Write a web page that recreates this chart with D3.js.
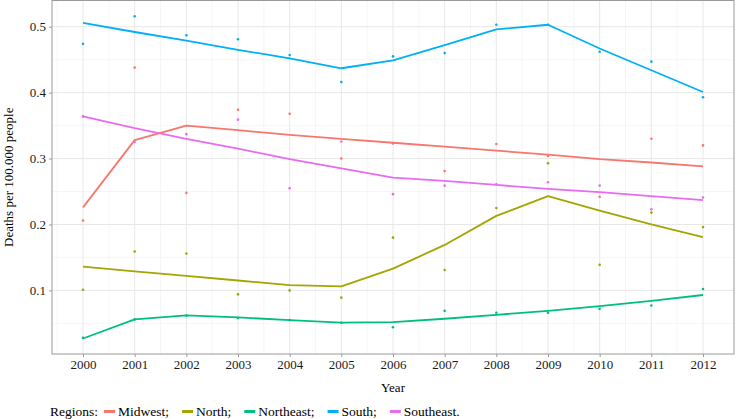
<!DOCTYPE html>
<html><head><meta charset="utf-8">
<script src="https://cdn.jsdelivr.net/npm/d3@7"></script>
<style>body{margin:0;background:#fff}
svg text{font-family:'Liberation Serif','Tinos','Times New Roman',Times,'DejaVu Serif',serif !important}</style>
</head><body>
<svg id="c" width="736" height="419"></svg>
<script>
const years = [2000,2001,2002,2003,2004,2005,2006,2007,2008,2009,2010,2011,2012];
const regions = ["Midwest","North","Northeast","South","Southeast"];
const colors = ["#F8766D","#A3A500","#00BF7D","#00B0F6","#E76BF3"];
const yTicks = [0.1,0.2,0.3,0.4,0.5];
const xTicks = years;

// observed points
const ptMidwest   = [0.206,0.438,0.248,0.374,0.368,0.300,0.323,0.281,0.322,0.304,0.242,0.330,0.320];
const ptNorth     = [0.101,0.159,0.156,0.094,0.100,0.089,0.180,0.131,0.225,0.293,0.139,0.218,0.196];
const ptNortheast = [0.028,0.056,0.062,0.058,0.055,0.051,0.044,0.069,0.066,0.066,0.072,0.077,0.102];
const ptSouth     = [0.474,0.516,0.487,0.481,0.457,0.416,0.455,0.460,0.503,0.503,0.462,0.447,0.393];
const ptSoutheast = [0.364,0.325,0.337,0.359,0.255,0.326,0.246,0.259,0.261,0.264,0.259,0.223,0.241];

// fitted lines
const fitMidwest   = [0.226,0.328,0.350,0.343,0.336,0.330,0.324,0.318,0.312,0.306,0.299,0.294,0.288];
const fitNorth     = [0.136,0.129,0.122,0.115,0.108,0.106,0.133,0.169,0.213,0.243,0.221,0.200,0.181];
const fitNortheast = [0.027,0.056,0.062,0.059,0.055,0.051,0.052,0.057,0.063,0.069,0.076,0.084,0.093];
const fitSouth     = [0.506,0.492,0.479,0.465,0.452,0.437,0.449,0.472,0.496,0.503,0.467,0.434,0.401];
const fitSoutheast = [0.364,0.346,0.330,0.315,0.299,0.285,0.271,0.266,0.260,0.254,0.249,0.243,0.237];

const points = [ptMidwest,ptNorth,ptNortheast,ptSouth,ptSoutheast];
const fits = [fitMidwest,fitNorth,fitNortheast,fitSouth,fitSoutheast];

const FONT = "'Liberation Serif','Tinos','Times New Roman',Times,'DejaVu Serif',serif";
const svg = d3.select("#c");
const L=52, R=734, T=0.5, B=354;
const x = d3.scaleLinear().domain([1999.4,2012.6]).range([L,R]);
const y = d3.scaleLinear().domain([0.0035,0.5398]).range([B,T]);

const g = svg.append("g");
// minor grid
const xMinor = years.slice(0,-1).map(v=>v+0.5).concat([1999.5]);
const yMinor = [0.05,0.15,0.25,0.35,0.45];
g.selectAll(".xm").data(xMinor).join("line").attr("x1",d=>x(d)).attr("x2",d=>x(d)).attr("y1",T).attr("y2",B).attr("stroke","#F0F0F0").attr("stroke-width",0.6);
g.selectAll(".ym").data(yMinor).join("line").attr("x1",L).attr("x2",R).attr("y1",d=>y(d)).attr("y2",d=>y(d)).attr("stroke","#F0F0F0").attr("stroke-width",0.6);
// major grid
g.selectAll(".xg").data(xTicks).join("line").attr("x1",d=>x(d)).attr("x2",d=>x(d)).attr("y1",T).attr("y2",B).attr("stroke","#E8E8E8").attr("stroke-width",1);
g.selectAll(".yg").data(yTicks).join("line").attr("x1",L).attr("x2",R).attr("y1",d=>y(d)).attr("y2",d=>y(d)).attr("stroke","#E8E8E8").attr("stroke-width",1);

// lines
const line = d3.line().x((d,i)=>x(years[i])).y(d=>y(d));
fits.forEach((f,k)=>{
  svg.append("path").attr("d",line(f)).attr("fill","none").attr("stroke",colors[k]).attr("stroke-width",1.8).attr("stroke-linejoin","round");
});
// points
points.forEach((p,k)=>{
  svg.append("g").selectAll("circle").data(p).join("circle")
    .attr("cx",(d,i)=>x(years[i])).attr("cy",d=>y(d)).attr("r",1.3).attr("fill",colors[k]);
});

// border
svg.append("rect").attr("x",L).attr("y",T).attr("width",R-L).attr("height",B-T).attr("fill","none").attr("stroke","#9a9a9a").attr("stroke-width",1);

// axes
const xa = svg.append("g").attr("transform",`translate(0,${B})`)
  .call(d3.axisBottom(x).tickValues(xTicks).tickFormat(d3.format("d")).tickSize(3).tickPadding(3));
const ya = svg.append("g").attr("transform",`translate(${L},0)`)
  .call(d3.axisLeft(y).tickValues(yTicks).tickFormat(d3.format(".1f")).tickSize(3).tickPadding(3));
[xa,ya].forEach(a=>{
  a.attr("font-family",FONT).attr("font-size",13);
  a.select(".domain").remove();
  a.selectAll(".tick line").attr("stroke","#9a9a9a");
  a.selectAll("text").attr("fill","#1a1a1a").attr("font-family",FONT).style("font-size","13px");
});

svg.append("text").attr("x",(L+R)/2).attr("y",392).attr("text-anchor","middle").attr("font-family",FONT).style("font-size","13px").attr("fill","#000").text("Year");
svg.append("text").attr("transform",`translate(13,${(T+B)/2}) rotate(-90)`).attr("text-anchor","middle").attr("font-family",FONT).style("font-size","13px").attr("fill","#000").text("Deaths per 100.000 people");

// legend
const lg = svg.append("g").attr("transform","translate(50,416)").attr("font-family",FONT);
const t0 = lg.append("text").attr("x",0).attr("y",0).attr("font-family",FONT).style("font-size","13.5px").text("Regions:");
let cx = t0.node().getComputedTextLength() + 6;
regions.forEach((r,k)=>{
  lg.append("line").attr("x1",cx).attr("x2",cx+11).attr("y1",-4.5).attr("y2",-4.5).attr("stroke",colors[k]).attr("stroke-width",3);
  const t = lg.append("text").attr("x",cx+14).attr("y",0).attr("font-family",FONT).style("font-size","13.5px").text(r + (k<regions.length-1?";":"."));
  cx += 14 + t.node().getComputedTextLength() + 13;
});
</script>
</body></html>
